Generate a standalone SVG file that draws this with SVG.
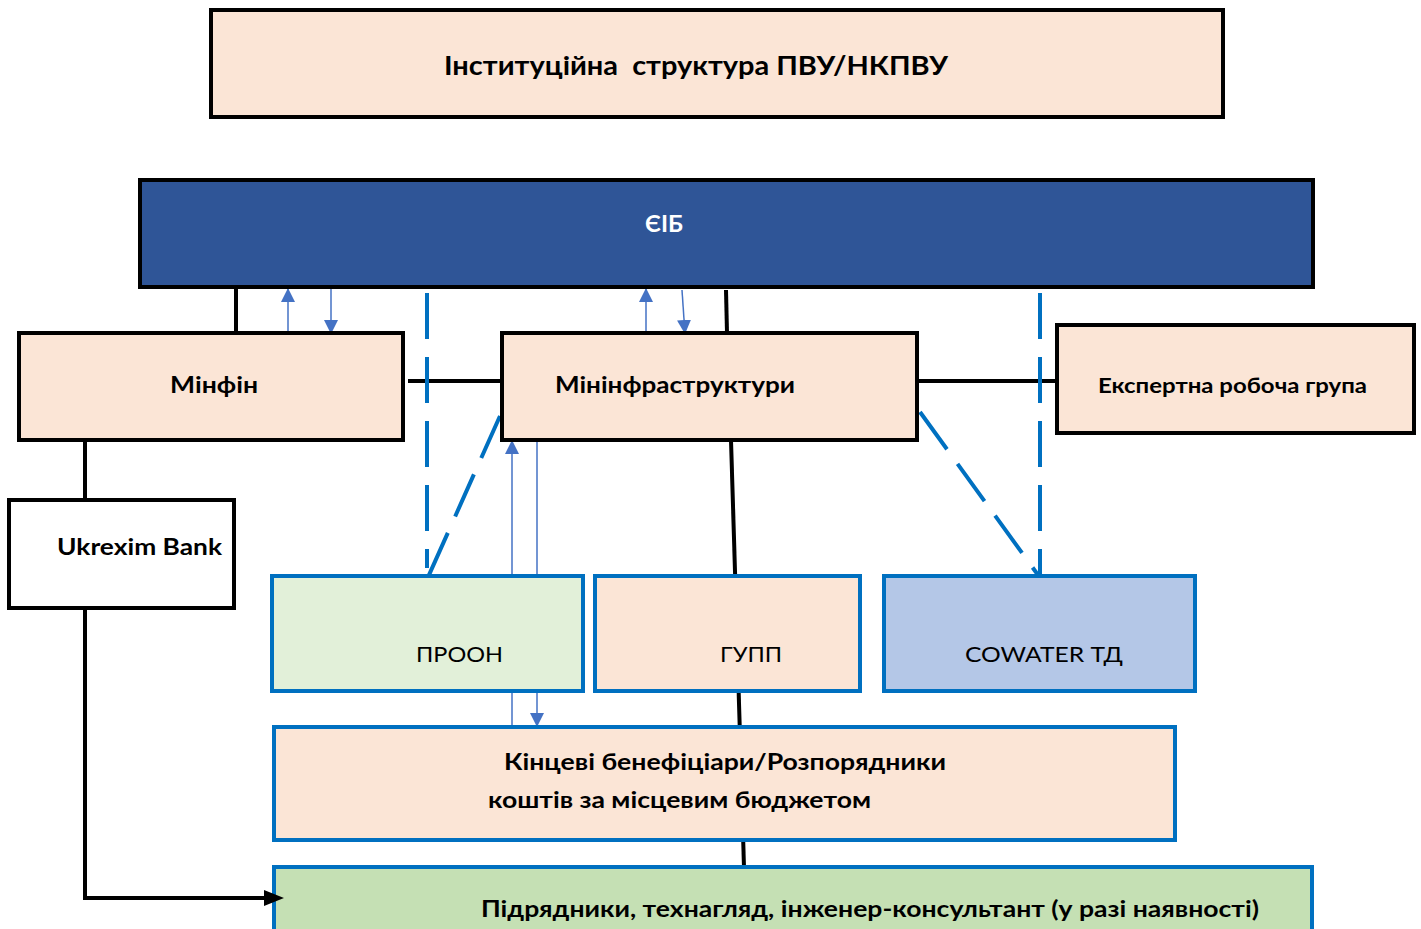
<svg xmlns="http://www.w3.org/2000/svg" width="1421" height="929" viewBox="0 0 1421 929">
<defs>
<style>
.pb{fill:#FBE5D6;stroke:#000;stroke-width:4}
.bb{stroke:#0070C0;stroke-width:4}
.t{font-family:Lato,"Liberation Sans",sans-serif;font-size:22px;fill:#000}
.b{font-weight:bold}
.blk{stroke:#000;stroke-width:4;fill:none}
.dash{stroke:#0070C0;stroke-width:4;fill:none;stroke-dasharray:46 18}
.thin{stroke:#4472C4;stroke-width:1.5;fill:none}
</style>
<marker id="ah" viewBox="0 0 10 10" refX="10" refY="5" markerWidth="14" markerHeight="15" markerUnits="userSpaceOnUse" orient="auto">
<path d="M0,0 L10,5 L0,10 z" fill="#4472C4"/>
</marker>
</defs>
<rect width="1421" height="929" fill="#fff"/>
<g id="connectors">
<line class="blk" x1="236" y1="287" x2="236" y2="333"/>
<line class="blk" x1="726" y1="290" x2="727" y2="333"/>
<line class="blk" x1="731" y1="440" x2="744" y2="867"/>
<line class="blk" x1="408" y1="381" x2="502" y2="381"/>
<line class="blk" x1="917" y1="381" x2="1057" y2="381"/>
<line class="blk" x1="85" y1="440" x2="85" y2="500"/>
<polyline class="blk" points="85,608 85,898 268,898"/>
<line class="dash" x1="427" y1="293" x2="427" y2="568"/>
<line class="dash" x1="1040" y1="293" x2="1040" y2="575"/>
<line class="dash" x1="500" y1="416" x2="429" y2="575"/>
<line class="dash" x1="920" y1="412" x2="1038" y2="575"/>
<line class="thin" x1="288" y1="333" x2="288" y2="288" marker-end="url(#ah)"/>
<line class="thin" x1="331" y1="287" x2="331" y2="334" marker-end="url(#ah)"/>
<line class="thin" x1="646" y1="333" x2="646" y2="288" marker-end="url(#ah)"/>
<line class="thin" x1="682" y1="290" x2="685" y2="334" marker-end="url(#ah)"/>
<line class="thin" x1="512" y1="727" x2="512" y2="440" marker-end="url(#ah)"/>
<line class="thin" x1="537" y1="441" x2="537" y2="727" marker-end="url(#ah)"/>
</g>
<g id="title">
<rect class="pb" x="211" y="10" width="1012" height="107"/>
<text class="t b" x="444" y="75" textLength="504" lengthAdjust="spacingAndGlyphs" style="font-size:26px" xml:space="preserve">Інституційна  структура ПВУ/НКПВУ</text>
</g>
<g id="eib">
<rect x="140" y="180" width="1173" height="107" fill="#2F5597" stroke="#000" stroke-width="4"/>
<text class="t b" x="645" y="232" textLength="38" lengthAdjust="spacingAndGlyphs" style="fill:#fff">ЄІБ</text>
</g>
<g id="minfin">
<rect class="pb" x="19" y="333" width="384" height="107"/>
<text class="t b" x="170" y="393" textLength="88" lengthAdjust="spacingAndGlyphs">Мінфін</text>
</g>
<g id="mininfra">
<rect class="pb" x="502" y="333" width="415" height="107"/>
<text class="t b" x="555" y="393" textLength="240" lengthAdjust="spacingAndGlyphs">Мінінфраструктури</text>
</g>
<g id="expert">
<rect class="pb" x="1057" y="325" width="357" height="108"/>
<text class="t b" x="1098" y="393" textLength="269" lengthAdjust="spacingAndGlyphs" style="font-size:20px">Експертна робоча група</text>
</g>
<g id="ukrexim">
<rect x="9" y="500" width="225" height="108" fill="#fff" stroke="#000" stroke-width="4"/>
<text class="t b" x="57" y="555" textLength="165" lengthAdjust="spacingAndGlyphs">Ukrexim Bank</text>
</g>
<g id="proon">
<rect class="bb" x="272" y="576" width="311" height="115" fill="#E2F0D9"/>
<text class="t" x="416" y="662" textLength="87" lengthAdjust="spacingAndGlyphs">ПРООН</text>
</g>
<g id="gupp">
<rect class="bb" x="595" y="576" width="265" height="115" fill="#FBE5D6"/>
<text class="t" x="720" y="662" textLength="62" lengthAdjust="spacingAndGlyphs">ГУПП</text>
</g>
<g id="cowater">
<rect class="bb" x="884" y="576" width="311" height="115" fill="#B4C7E7"/>
<text class="t" x="965" y="662" textLength="158" lengthAdjust="spacingAndGlyphs">COWATER ТД</text>
</g>
<g id="beneficiaries">
<rect class="bb" x="274" y="727" width="901" height="113" fill="#FBE5D6"/>
<text class="t b" x="504" y="770" textLength="442" lengthAdjust="spacingAndGlyphs">Кінцеві бенефіціари/Розпорядники</text>
<text class="t b" x="488" y="808" textLength="383" lengthAdjust="spacingAndGlyphs">коштів за місцевим бюджетом</text>
</g>
<g id="contractors">
<rect class="bb" x="274" y="867" width="1038" height="70" fill="#C5E0B4"/>
<text class="t b" x="481" y="917" textLength="778" lengthAdjust="spacingAndGlyphs">Підрядники, технагляд, інженер-консультант (у разі наявності)</text>
</g>
<g id="connector-heads">
<path d="M284,898 L264,890 L264,906 z" fill="#000"/>
</g>
</svg>
